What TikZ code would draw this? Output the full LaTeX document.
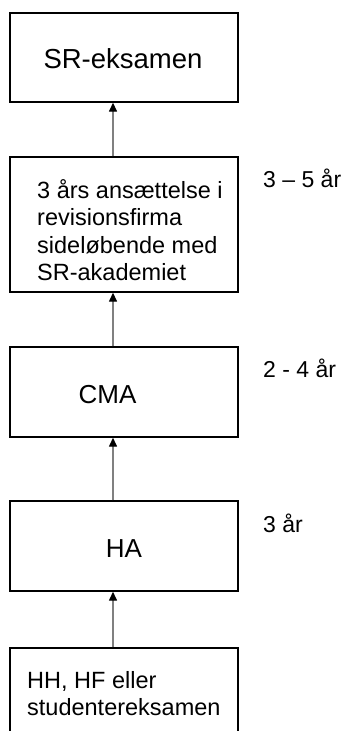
\documentclass[tikz,border=0pt]{standalone}
\usepackage{fontspec}
\setmainfont{Liberation Sans}
\usetikzlibrary{arrows.meta}
\tikzset{
  stagebox/.style={draw=black, line width=1.4pt, minimum width=228pt, inner sep=0pt},
  txt/.style={inner sep=0pt, anchor=base west, font=\fontsize{23.5}{27}\selectfont},
  big/.style={inner sep=0pt, anchor=base, font=\fontsize{26}{30}\selectfont},
  side/.style={inner sep=0pt, anchor=base west, font=\fontsize{23}{27}\selectfont},
  arr/.style={draw=black!50, line width=1.4pt, -{Triangle[width=8pt,length=9pt,color=black]}}
}
\begin{document}
\begin{tikzpicture}[x=1pt,y=-1pt]
\useasboundingbox (0,0) rectangle (343,731);
\clip (0,0) rectangle (343,731);
% boxes
\node[stagebox, minimum height=89pt]  (b1) at (124,57.5) {};
\node[stagebox, minimum height=135pt] (b2) at (124,224.5) {};
\node[stagebox, minimum height=90pt]  (b3) at (124,392) {};
\node[stagebox, minimum height=90pt]  (b4) at (124,546) {};
\node[stagebox, minimum height=130pt] (b5) at (124,713) {};
% texts
\node[big, font=\fontsize{27.5}{32}\selectfont] (t1) at (123,68.5) {SR-eksamen};
\node[txt] (t2a) at (37,198.5) {3 års ansættelse i};
\node[txt] (t2b) at (37,225.5) {revisionsfirma};
\node[txt] (t2c) at (37,253) {sideløbende med};
\node[txt] (t2d) at (37,280) {SR-akademiet};
\node[big] (t3) at (107.5,403) {CMA};
\node[big] (t4) at (124,557.5) {HA};
\node[txt] (t5a) at (27,688.5) {HH, HF eller};
\node[txt] (t5b) at (27,715.5) {studentereksamen};
% side labels
\node[side] (s1) at (263,187) {3 – 5 år};
\node[side] (s2) at (263,377) {2 - 4 år};
\node[side] (s3) at (263,532) {3 år};
% arrows
\coordinate (ax) at (113,0);
\draw[arr] (b2.north -| ax) -- (b1.south -| ax);
\draw[arr] (b3.north -| ax) -- (b2.south -| ax);
\draw[arr] (b4.north -| ax) -- (b3.south -| ax);
\draw[arr] (b5.north -| ax) -- (b4.south -| ax);
\end{tikzpicture}
\end{document}
